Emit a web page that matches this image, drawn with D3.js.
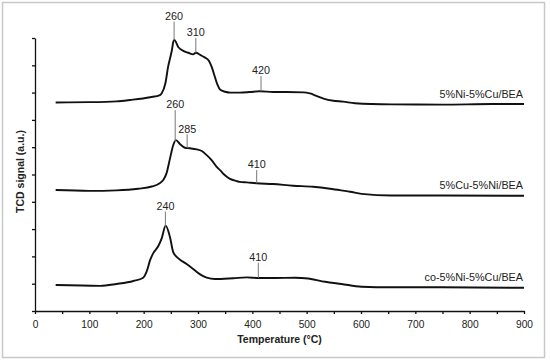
<!DOCTYPE html>
<html>
<head>
<meta charset="utf-8">
<script src="https://cdn.jsdelivr.net/npm/d3@7"></script>
<style>
  body { margin: 0; background: #fff; }
  text { font-family: "Liberation Sans", Arial, sans-serif; fill: #222; }
</style>
</head>
<body>
<div id="chart"></div>
<script>
// TPR profiles (signal in arbitrary units, one unit per y tick)
var tempNiCu = [38, 100, 150, 175, 212, 230, 233, 240, 245, 252, 254.5, 256.4, 264, 273, 282, 291, 296, 304, 313, 320, 325, 331, 336, 341, 350, 359, 377, 395, 414, 438, 463, 494, 506, 518, 531, 549, 567, 589, 657, 749, 841, 900];
var sigNiCu  = [7.64, 7.65, 7.68, 7.73, 7.83, 7.91, 7.97, 8.34, 8.95, 9.56, 9.86, 9.93, 9.66, 9.53, 9.46, 9.40, 9.46, 9.38, 9.28, 9.17, 8.95, 8.58, 8.28, 8.10, 8.03, 8.00, 8.00, 8.02, 8.05, 8.02, 8.02, 8.01, 7.97, 7.88, 7.78, 7.70, 7.67, 7.61, 7.57, 7.56, 7.58, 7.58];

var tempCuNi = [38, 100, 150, 190, 215, 228, 236, 242, 248.5, 254.5, 259.5, 267, 276, 285, 297.6, 307, 316, 325, 334, 341, 347, 353, 359, 371, 377, 390, 408, 438, 475, 512, 543, 567, 580, 601, 656, 748, 900];
var sigCuNi  = [4.43, 4.40, 4.42, 4.48, 4.56, 4.66, 4.80, 5.04, 5.59, 6.08, 6.26, 6.11, 5.98, 5.96, 5.92, 5.86, 5.71, 5.53, 5.29, 5.15, 5.02, 4.92, 4.84, 4.76, 4.73, 4.71, 4.68, 4.65, 4.59, 4.55, 4.48, 4.41, 4.37, 4.29, 4.23, 4.23, 4.22];

var tempCo = [38, 120, 150, 181, 199, 205.6, 212, 218, 227, 233, 240.5, 248.5, 254.5, 264, 279, 291, 304, 316, 331, 365, 390, 411, 442, 478, 503, 534, 564, 601, 656, 748, 900];
var sigCo  = [0.95, 0.92, 0.99, 1.10, 1.22, 1.45, 1.87, 2.13, 2.38, 2.65, 3.12, 2.70, 2.15, 1.93, 1.72, 1.54, 1.34, 1.22, 1.17, 1.20, 1.23, 1.21, 1.21, 1.22, 1.19, 1.07, 0.99, 0.89, 0.87, 0.87, 0.85];

var seriesNames = ["5%Ni-5%Cu/BEA", "5%Cu-5%Ni/BEA", "co-5%Ni-5%Cu/BEA"];

// peak markers: where the tick is drawn, its label, which curve, top of tick
var markerTemps  = [256, 296, 416, 258, 280, 408, 240, 411];
var markerLabels = ["260", "310", "420", "260", "285", "410", "240", "410"];
var markerSeries = [0, 0, 0, 1, 1, 1, 2, 2];
var markerTops   = [10.6, 10.0, 8.61, 7.36, 6.47, 5.16, 3.64, 1.77];

var xTicks = d3.range(0, 901, 50);
var xLabels = d3.range(0, 901, 100);
var yTicks = d3.range(0, 11, 1);

var svgWidth = 550;
var svgHeight = 361;
var margin = { top: 38, right: 26, bottom: 50, left: 35 };
var width = 524 - margin.left;
var height = 311 - margin.top;

var svg = d3.select("#chart")
  .append("svg")
  .attr("width", svgWidth)
  .attr("height", svgHeight);

// light frame round the figure
svg.append("rect")
  .attr("x", 2.5)
  .attr("y", 2.5)
  .attr("width", 542)
  .attr("height", 355)
  .attr("fill", "none")
  .attr("stroke", "#c8c8c8")
  .attr("stroke-width", 1.5);

var chartGroup = svg.append("g")
  .attr("transform", `translate(${margin.left}, ${margin.top})`);

var xScale = d3.scaleLinear().domain([0, 900]).range([0, width]);
var yScale = d3.scaleLinear().domain([0, 10]).range([height, 0]);

// x axis: ticks every 50, labels every 100
var bottomAxis = d3.axisBottom(xScale)
  .tickValues(xTicks)
  .tickSize(3)
  .tickSizeOuter(0)
  .tickFormat(d => xLabels.indexOf(d) >= 0 ? d : "");

var xAxis = chartGroup.append("g")
  .attr("transform", `translate(0, ${height})`)
  .call(bottomAxis);

xAxis.selectAll("text")
  .attr("dy", 0)
  .attr("y", 16.8)
  .style("font-size", "10.2px")
  .style("font-family", "Liberation Sans, Arial, sans-serif")
  .attr("fill", "#222");

// y axis: unlabelled ticks
var leftAxis = d3.axisLeft(yScale)
  .tickValues(yTicks)
  .tickSize(3)
  .tickSizeOuter(0)
  .tickFormat("");

var yAxis = chartGroup.append("g").call(leftAxis);

chartGroup.selectAll(".domain, .tick line")
  .attr("stroke", "#111")
  .attr("stroke-width", 1.3);

var allSeries = [
  d3.zip(tempNiCu, sigNiCu),
  d3.zip(tempCuNi, sigCuNi),
  d3.zip(tempCo, sigCo)
];

var line = d3.line()
  .x(d => xScale(d[0]))
  .y(d => yScale(d[1]))
  .curve(d3.curveMonotoneX);

chartGroup.selectAll("path.curve")
  .data(allSeries)
  .enter()
  .append("path")
  .attr("class", "curve")
  .attr("d", line)
  .attr("fill", "none")
  .attr("stroke", "#111")
  .attr("stroke-width", 1.9)
  .attr("stroke-linejoin", "round");

// series names, right aligned above the tail of each curve
chartGroup.selectAll("text.name")
  .data(allSeries)
  .enter()
  .append("text")
  .attr("class", "name")
  .attr("x", xScale(900) - 1)
  .attr("y", d => yScale(d[d.length - 1][1]) - 6.5)
  .attr("text-anchor", "end")
  .style("font-size", "10.8px")
  .text((d, i) => seriesNames[i]);

// value of a curve at a temperature, by linear interpolation
function valueAt(series, t) {
  var xs = series.map(d => d[0]);
  var i = d3.bisectLeft(xs, t);
  if (i <= 0) return series[0][1];
  if (i >= series.length) return series[series.length - 1][1];
  var a = series[i - 1], b = series[i];
  return a[1] + (b[1] - a[1]) * (t - a[0]) / (b[0] - a[0]);
}

var markers = markerTemps.map((t, i) => ({
  t: t,
  label: markerLabels[i],
  top: markerTops[i],
  bottom: valueAt(allSeries[markerSeries[i]], t)
}));

chartGroup.selectAll("line.marker")
  .data(markers)
  .enter()
  .append("line")
  .attr("class", "marker")
  .attr("x1", d => xScale(d.t))
  .attr("x2", d => xScale(d.t))
  .attr("y1", d => yScale(d.top))
  .attr("y2", d => yScale(d.bottom))
  .attr("stroke", "#777")
  .attr("stroke-width", 1);

chartGroup.selectAll("text.marker")
  .data(markers)
  .enter()
  .append("text")
  .attr("class", "marker")
  .attr("x", d => xScale(d.t))
  .attr("y", d => yScale(d.top) - 1.8)
  .attr("text-anchor", "middle")
  .style("font-size", "10.8px")
  .text(d => d.label);

// axis titles
chartGroup.append("text")
  .attr("x", width / 2)
  .attr("y", height + 32)
  .attr("text-anchor", "middle")
  .style("font-size", "10.5px")
  .style("font-weight", "bold")
  .text("Temperature (°C)");

chartGroup.append("text")
  .attr("transform", "rotate(-90)")
  .attr("x", 0 - (height / 2) + 3)
  .attr("y", 0 - margin.left + 23.5)
  .attr("text-anchor", "middle")
  .style("font-size", "10.5px")
  .style("font-weight", "bold")
  .text("TCD signal (a.u.)");
</script>
</body>
</html>
